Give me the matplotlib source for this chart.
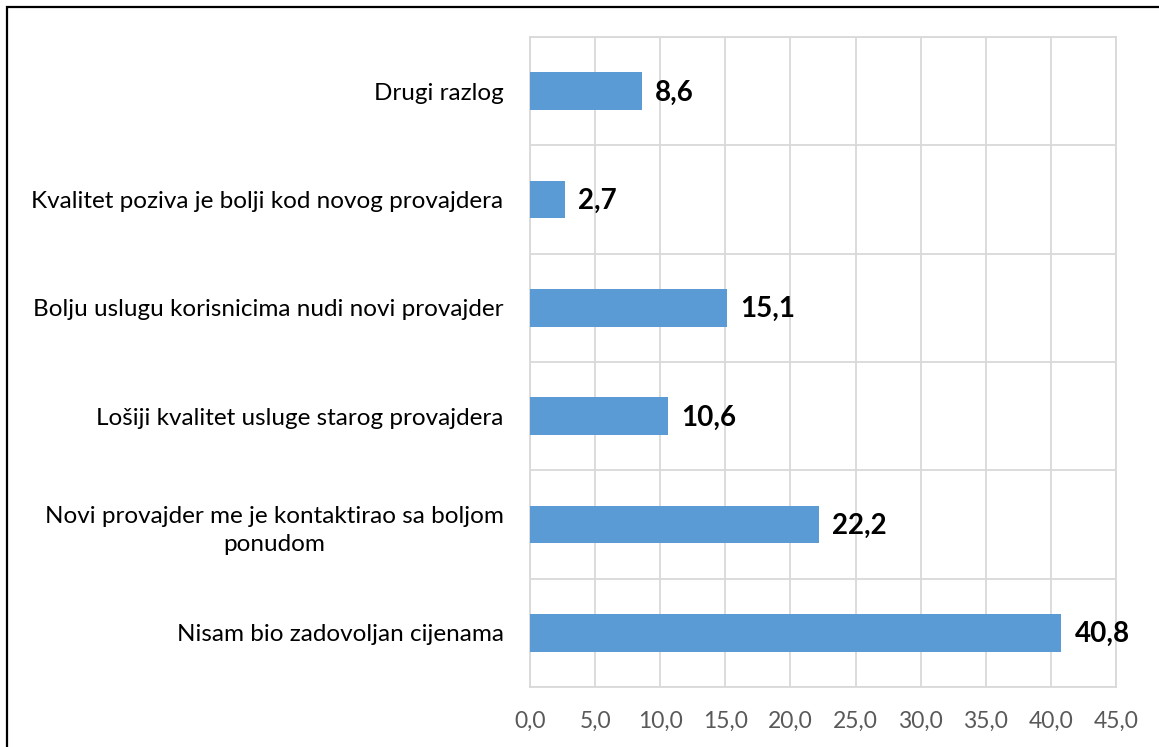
import matplotlib.pyplot as plt
import matplotlib.patches as mpatches
import numpy as np

# data (bottom to top)
categories = [
    "Nisam bio zadovoljan cijenama",
    "Novi provajder me je kontaktirao sa boljom\nponudom",
    "Lošiji kvalitet usluge starog provajdera",
    "Bolju uslugu korisnicima nudi novi provajder",
    "Kvalitet poziva je bolji kod novog provajdera",
    "Drugi razlog",
]
values = [40.8, 22.2, 10.6, 15.1, 2.7, 8.6]
value_labels = ["40,8", "22,2", "10,6", "15,1", "2,7", "8,6"]
x_ticks = [0, 5, 10, 15, 20, 25, 30, 35, 40, 45]
x_tick_labels = ["0,0", "5,0", "10,0", "15,0", "20,0", "25,0", "30,0", "35,0", "40,0", "45,0"]

plt.rcParams['font.family'] = ['Lato', 'DejaVu Sans']

fig = plt.figure(figsize=(11.59, 7.47), dpi=100)
ax = fig.add_axes([0.4573, 0.0803, 0.5056, 0.8702])

# outer frame (runs off the right and bottom edge)
fig.patches.append(mpatches.Rectangle((7 / 1159, -0.05), 1.1, 1 - 7 / 747 + 0.05,
                                      transform=fig.transFigure, fill=False,
                                      edgecolor='black', linewidth=1.6))

y = np.arange(len(categories))
ax.barh(y, values, height=0.35, color='#5B9BD5', zorder=3)

# value labels
for yi, v, lab in zip(y, values, value_labels):
    ax.annotate(lab, (v, yi), xytext=(9.5, -1), textcoords='offset points',
                ha='left', va='center', fontsize=20, fontweight='bold', color='black')

ax.set_xlim(0, 45)
ax.set_ylim(-0.5, len(categories) - 0.5)
ax.set_xticks(x_ticks)
ax.set_xticklabels(x_tick_labels, fontsize=16.5, color='#595959')
ax.set_yticks(y)
ax.set_yticklabels(categories, fontsize=17.5, color='black', multialignment='center',
                   linespacing=1.45)
ax.set_yticks(np.arange(-0.5, len(categories), 1), minor=True)
ax.tick_params(axis='both', which='both', length=0)
ax.tick_params(axis='y', pad=19)
ax.tick_params(axis='x', pad=17)

ax.grid(axis='x', color='#d9d9d9', linewidth=1.3, zorder=0)
ax.grid(axis='y', which='minor', color='#d9d9d9', linewidth=1.3, zorder=0)
for s in ax.spines.values():
    s.set_color('#d9d9d9')
    s.set_linewidth(1.3)

plt.savefig('out.png', dpi=100)
